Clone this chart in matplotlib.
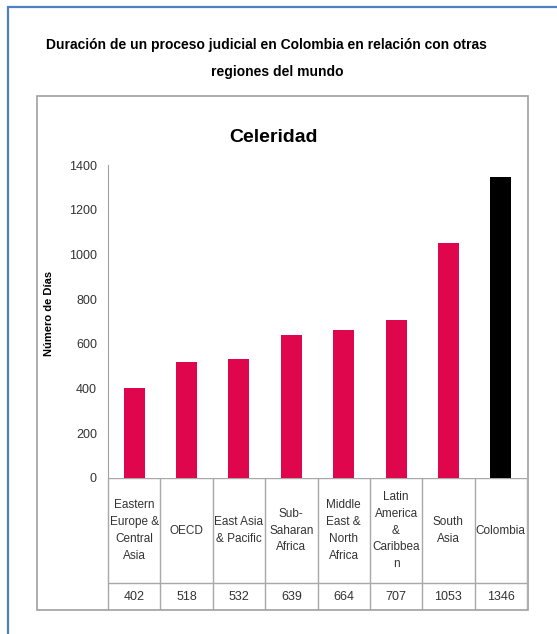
import matplotlib
matplotlib.use("Agg")
import matplotlib.pyplot as plt
from matplotlib.patches import Rectangle

regions = ["Eastern\nEurope &\nCentral\nAsia", "OECD", "East Asia\n& Pacific",
           "Sub-\nSaharan\nAfrica", "Middle\nEast &\nNorth\nAfrica",
           "Latin\nAmerica\n&\nCaribbea\nn", "South\nAsia", "Colombia"]
days = [402, 518, 532, 639, 664, 707, 1053, 1346]
bar_colors = ["#E0064E"] * 7 + ["#000000"]
yticks = [0, 200, 400, 600, 800, 1000, 1200, 1400]

plt.rcParams["font.family"] = ["Liberation Sans", "DejaVu Sans"]

W, H = 557, 634
fig = plt.figure(figsize=(W / 100, H / 100), dpi=100)


def fx(x):
    return x / W


def fy(y):
    return 1 - y / H


# outer blue frame
fig.add_artist(Rectangle((fx(8), fy(700)), fx(600), fy(7) - fy(700), transform=fig.transFigure,
                         fill=False, edgecolor="#4F81BD", lw=1.6))
# inner gray box
fig.add_artist(Rectangle((fx(37), fy(610)), fx(528 - 37), fy(96) - fy(610), transform=fig.transFigure,
                         fill=False, edgecolor="#A0A0A0", lw=1.2))

fig.text(fx(266), fy(45), "Duración de un proceso judicial en Colombia en relación con otras",
         ha="center", va="center", fontsize=10, fontweight="bold")
fig.text(fx(277), fy(72), "regiones del mundo",
         ha="center", va="center", fontsize=10, fontweight="bold")

# chart
ax = fig.add_axes([fx(108), fy(478), fx(527 - 108), fy(165) - fy(478)])
x = range(len(days))
ax.bar(x, days, width=0.4, color=bar_colors)
ax.set_xlim(-0.5, len(days) - 0.5)
ax.set_ylim(0, 1400)
ax.set_yticks(yticks)
ax.tick_params(axis="y", length=0, labelsize=9, labelcolor="#333333", pad=8)
ax.set_xticks([])
for s in ["top", "right", "bottom"]:
    ax.spines[s].set_visible(False)
ax.spines["left"].set_color("#A0A0A0")
ax.set_ylabel("Número de Días", fontsize=8, fontweight="bold")
ax.yaxis.set_label_coords(-0.128, 0.527)
fig.text(fx(274), fy(138), "Celeridad", ha="center", va="center", fontsize=14, fontweight="bold")

# data table under the chart
cat_w = (527 - 108) / len(days)
left_col = (108 - 37) / cat_w
tab = fig.add_axes([fx(37), fy(610), fx(527 - 37), fy(478) - fy(610)])
tab.set_xlim(-0.5 - left_col, len(days) - 0.5)
tab.set_ylim(0, 132)
tab.axis("off")
lc = "#A8A8A8"
tab.hlines([132, 27], -0.5, len(days) - 0.5, color=lc, lw=1)
tab.vlines([i - 0.5 for i in range(len(days) + 1)], 0, 132, color=lc, lw=1)
for i, (name, d) in enumerate(zip(regions, days)):
    tab.text(i, 79.5, name, ha="center", va="center", fontsize=8.5, color="#333333", linespacing=1.55)
    tab.text(i, 13.5, str(d), ha="center", va="center", fontsize=9, color="#333333")

fig.savefig("out.png", dpi=100)
